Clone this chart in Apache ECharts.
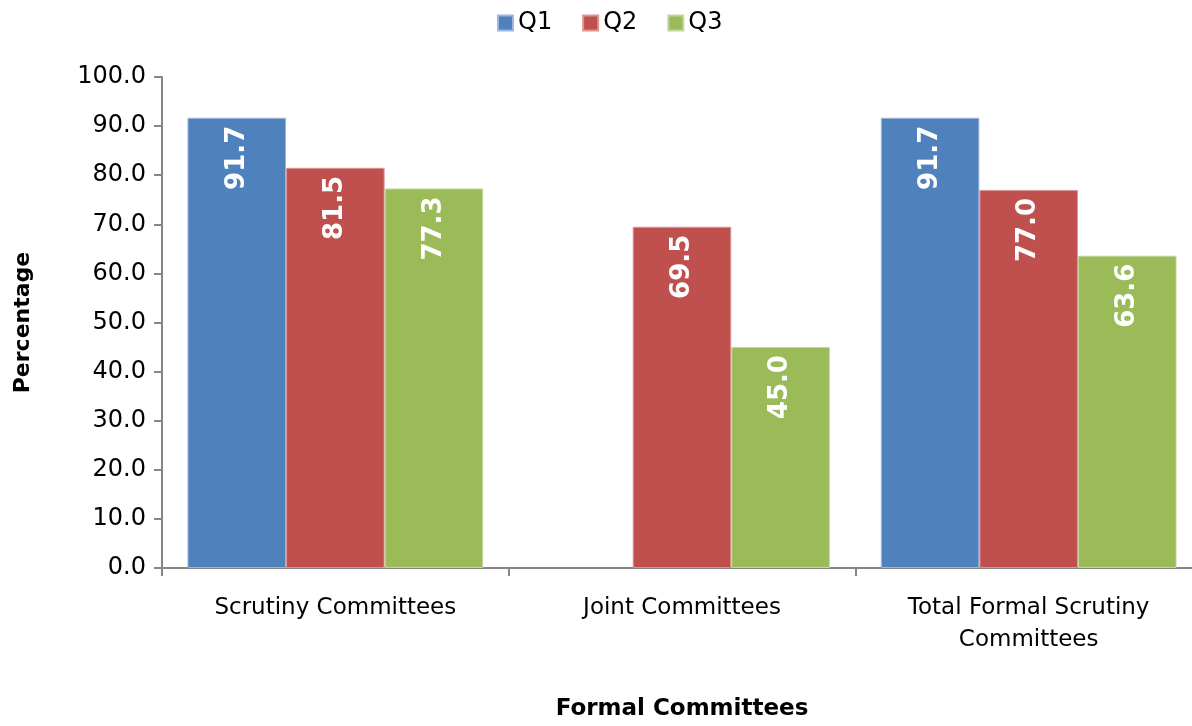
<!DOCTYPE html>
<html>
<head>
    <meta charset="utf-8">
    <title>Formal Committees</title>
    <style>
        html, body { margin: 0; padding: 0; background: #fff; overflow: hidden; }
        #chart { width: 1202px; height: 726px; }
    </style>
</head>
<body>
    <div id="chart"></div>
    <script src="https://cdn.jsdelivr.net/npm/echarts@6/dist/echarts.min.js"></script>
    <script>
        const chart = echarts.init(document.getElementById('chart'));

        // categories
        const categories = ['Scrutiny Committees', 'Joint Committees', 'Total Formal Scrutiny\nCommittees'];
        // series values (Q1 has no joint committees value)
        const q1 = [91.7, null, 91.7];
        const q2 = [81.5, 69.5, 77.0];
        const q3 = [77.3, 45.0, 63.6];

        const font = '"DejaVu Sans", sans-serif';

        // white rotated labels inside the top of each bar
        const barLabel = {
            show: true,
            position: 'insideTop',
            rotate: 90,
            align: 'right',
            verticalAlign: 'middle',
            distance: 8,
            color: '#fff',
            fontWeight: 'bold',
            fontSize: 26,
            fontFamily: font,
            formatter: p => p.value == null ? '' : Number(p.value).toFixed(1)
        };

        function bar(name, data, color, border) {
            return {
                name: name,
                type: 'bar',
                data: data,
                barGap: '0%',
                barCategoryGap: '14.7%',
                itemStyle: { color: color, borderColor: border, borderWidth: 1 },
                label: barLabel
            };
        }

        const option = {
            animation: false,
            textStyle: { fontFamily: font },
            legend: {
                top: 6,
                left: 492,
                icon: 'rect',
                itemWidth: 15,
                itemHeight: 15,
                itemGap: 30,
                textStyle: { fontSize: 24, color: '#000', fontFamily: font },
                data: ['Q1', 'Q2', 'Q3']
            },
            grid: { left: 162, right: 0, top: 77, bottom: 156 },
            xAxis: {
                type: 'category',
                data: categories,
                name: 'Formal Committees',
                nameLocation: 'middle',
                nameGap: 130,
                nameTextStyle: { fontSize: 23, fontWeight: 'bold', color: '#000', fontFamily: font },
                axisLine: { lineStyle: { color: '#868686', width: 2 } },
                axisTick: { show: true, length: 8, lineStyle: { color: '#868686', width: 2 } },
                axisLabel: { fontSize: 23, color: '#000', margin: 24, lineHeight: 32, fontFamily: font }
            },
            yAxis: {
                type: 'value',
                min: 0,
                max: 100,
                interval: 10,
                name: 'Percentage',
                nameLocation: 'middle',
                nameGap: 128,
                nameTextStyle: { fontSize: 22, fontWeight: 'bold', color: '#000', fontFamily: font },
                axisLine: { show: true, lineStyle: { color: '#868686', width: 2 } },
                axisTick: { show: true, length: 8, lineStyle: { color: '#868686', width: 2 } },
                splitLine: { show: false },
                axisLabel: {
                    fontSize: 24, color: '#000', margin: 16, fontFamily: font,
                    formatter: v => v.toFixed(1)
                }
            },
            series: [
                bar('Q1', q1, '#4F81BD', '#9DB8DE'),
                bar('Q2', q2, '#C0504D', '#D99694'),
                bar('Q3', q3, '#9BBB59', '#C3D69B')
            ]
        };

        chart.setOption(option);
    </script>
</body>
</html>
